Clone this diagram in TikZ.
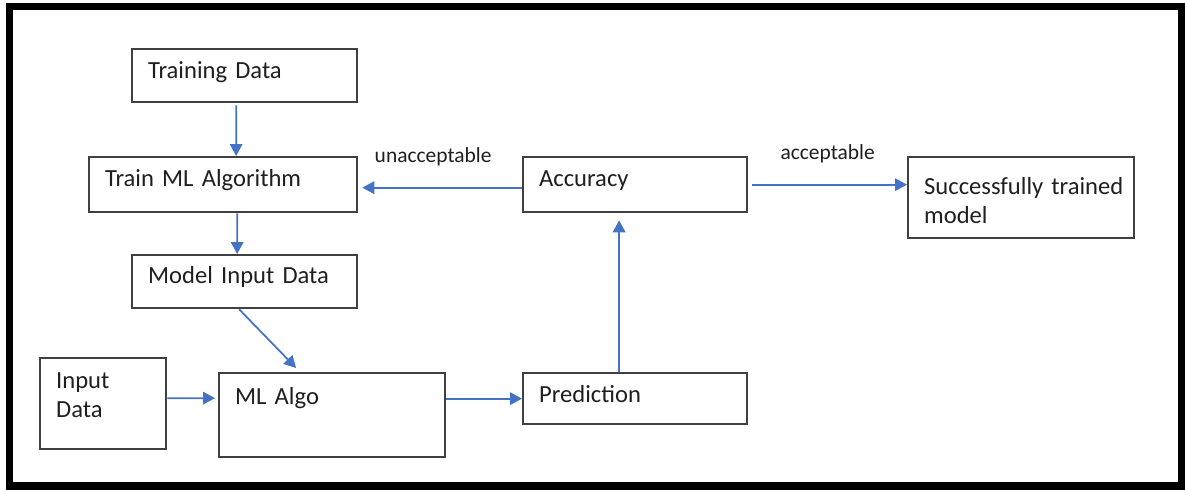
\documentclass[tikz,border=0pt]{standalone}
\usepackage{fontspec}
\setmainfont{Carlito}
\usetikzlibrary{arrows.meta}

\definecolor{flowblue}{HTML}{4472C4}
\definecolor{boxgray}{HTML}{404040}
\definecolor{textgray}{HTML}{1F1F1F}

\tikzset{
    box/.style={draw=boxgray, line width=1.3pt, rectangle, anchor=north west,
        inner xsep=0.32cm, inner ysep=0pt, align=left, text=textgray,
        font=\fontsize{14}{16.5}\selectfont},
    flow/.style={draw=flowblue, line width=1pt,
        -{Triangle[length=2.4mm,width=2.5mm]}},
    flowlabel/.style={text=textgray, font=\fontsize{12.2}{14}\selectfont}
}

\begin{document}
\begin{tikzpicture}
    \useasboundingbox (0,0) rectangle (23.7,9.8);

    % outer frame
    \draw[line width=4pt] (0.19,0.08) rectangle (23.62,9.67);

    % boxes
    \node[box, text width=3.86cm, text height=0.58cm, text depth=0.48cm] (td) at (2.62,8.84) {Training Data};
    \node[box, text width=4.72cm, text height=0.58cm, text depth=0.52cm] (trainml) at (1.76,6.68) {Train ML Algorithm};
    \node[box, text width=3.86cm, text height=0.56cm, text depth=0.50cm] (modelin) at (2.62,4.72) {Model Input Data};
    \node[box, text width=1.88cm, text height=0.60cm, text depth=1.22cm] (inp) at (0.78,2.66) {Input\\Data};
    \node[box, text width=3.88cm, text height=0.62cm, text depth=1.06cm] (mlalgo) at (4.36,2.36) {ML Algo};
    \node[box, text width=3.84cm, text height=0.58cm, text depth=0.52cm] (acc) at (10.44,6.68) {Accuracy};
    \node[box, text width=3.84cm, text height=0.58cm, text depth=0.44cm] (pred) at (10.44,2.36) {Prediction};
    \node[box, text width=3.88cm, text height=0.74cm, text depth=0.88cm] (succ) at (18.14,6.68) {\mbox{Successfully trained}\\model};

    % connectors
    \draw[flow] ([xshift=-0.17cm,yshift=-0.04cm]td.south) -- ([xshift=0.26cm]trainml.north);
    \draw[flow] ([xshift=0.28cm]trainml.south) -- ([xshift=-0.15cm]modelin.north);
    \draw[flow] ([xshift=-0.11cm]modelin.south) -- ([xshift=-0.72cm,yshift=0.08cm]mlalgo.north);
    \draw[flow] ([yshift=0.11cm]inp.east) -- ([yshift=0.34cm,xshift=-0.06cm]mlalgo.west);
    \draw[flow] (mlalgo.east |- pred.west) -- (pred.west);
    \draw[flow, shorten >=0.14cm] ([xshift=-0.32cm]pred.north) -- ([xshift=-0.32cm]acc.south);
    \draw[flow, shorten >=0.08cm] ([yshift=-0.06cm]acc.west) -- ([yshift=-0.06cm]trainml.east)
        node[flowlabel, midway, above=0.3cm, xshift=-0.14cm] {unacceptable};
    \draw[flow, shorten <=0.08cm] (acc.east) -- (acc.east -| succ.west)
        node[flowlabel, midway, above=0.3cm] {acceptable};
\end{tikzpicture}
\end{document}
